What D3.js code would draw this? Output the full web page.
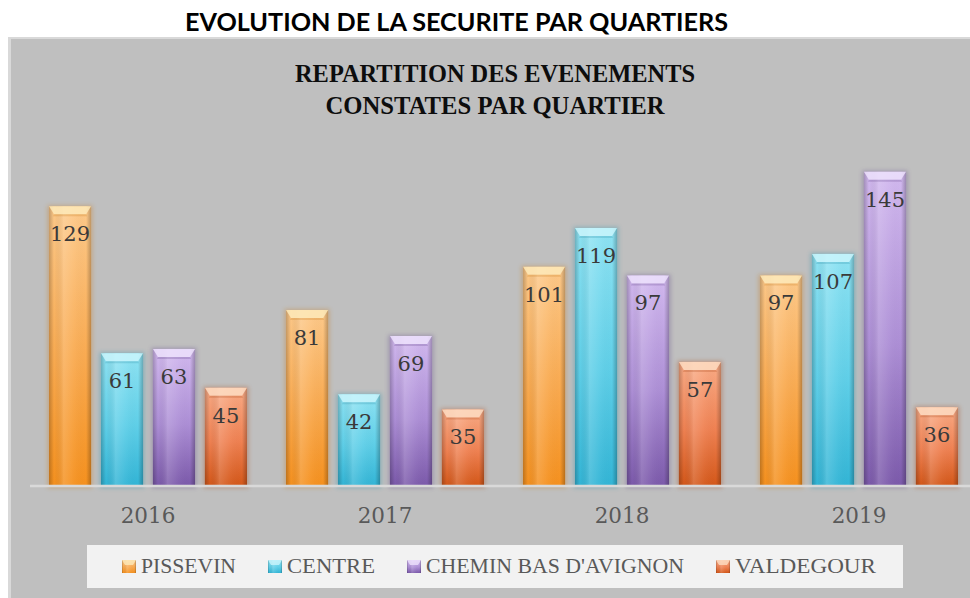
<!DOCTYPE html>
<html>
<head>
<meta charset="utf-8">
<script src="https://cdn.jsdelivr.net/npm/d3@7/dist/d3.min.js"></script>
<style>
  html, body { margin: 0; padding: 0; background: #ffffff; }
  svg { display: block; }
</style>
</head>
<body>
<script>
// Yearly counts of recorded events per district
const years = ["2016", "2017", "2018", "2019"];
const districts = ["PISSEVIN", "CENTRE", "CHEMIN BAS D'AVIGNON", "VALDEGOUR"];
const pissevin = [129, 81, 101, 97];
const centre = [61, 42, 119, 107];
const cheminBas = [63, 69, 97, 145];
const valdegour = [45, 35, 57, 36];
const seriesValues = [pissevin, centre, cheminBas, valdegour];

const pageTitle = "EVOLUTION DE LA SECURITE PAR QUARTIERS";
const chartTitle = ["REPARTITION DES EVENEMENTS", "CONSTATES PAR QUARTIER"];

// light / mid / dark tones for each district bar
const palette = [
  { top: "#fdc98a", mid: "#f9aa50", bot: "#f5911f", cap: "#fde9b8", edge: "#c97a1c" },
  { top: "#8fe3f3", mid: "#5fcfe8", bot: "#33b5d6", cap: "#c9f4fb", edge: "#2a8fa9" },
  { top: "#d2b9ef", mid: "#ad8fd6", bot: "#7c5aab", cap: "#ece0fb", edge: "#5f4488" },
  { top: "#f9ab86", mid: "#ef8152", bot: "#d4581a", cap: "#fddcc2", edge: "#a84414" }
];

const W = 970, H = 598;
const svg = d3.select("body").append("svg").attr("width", W).attr("height", H);
const defs = svg.append("defs");

// page title above the chart frame
svg.append("text")
  .attr("x", 456.5).attr("y", 31)
  .attr("text-anchor", "middle")
  .attr("font-family", "Lato, 'Open Sans', sans-serif")
  .attr("font-weight", "bold")
  .attr("font-size", 25)
  .attr("textLength", 543).attr("lengthAdjust", "spacingAndGlyphs")
  .attr("fill", "#000")
  .text(pageTitle);

// chart frame
svg.append("rect").attr("x", 8).attr("y", 37).attr("width", W - 8).attr("height", H - 37)
  .attr("fill", "#d9d9d9");
svg.append("rect").attr("x", 11).attr("y", 39).attr("width", W - 11).attr("height", H - 39)
  .attr("fill", "#bfbfbf");

// chart title (two lines)
const titleLengths = [400, 339];
svg.append("g").selectAll("text").data(chartTitle).join("text")
  .attr("x", 495)
  .attr("y", (d, i) => 82 + i * 31.5)
  .attr("text-anchor", "middle")
  .attr("font-family", "'Liberation Serif', 'DejaVu Serif', serif")
  .attr("font-weight", "bold")
  .attr("font-size", 25)
  .attr("textLength", (d, i) => titleLengths[i]).attr("lengthAdjust", "spacingAndGlyphs")
  .attr("fill", "#0d0d0d")
  .text(d => d);

// scales
const x0 = d3.scaleBand().domain(years).range([29.5, 977.5]).padding(0);
const x1 = d3.scaleBand().domain(districts)
  .range([19.5, x0.bandwidth() - 19.5]).paddingInner(0.19).paddingOuter(0);
const y = d3.scaleLinear().domain([0, 160]).range([485, 139.4]);

// gradients per district
palette.forEach((p, i) => {
  const gv = defs.append("linearGradient").attr("id", "gv" + i)
    .attr("x1", 0).attr("y1", 0).attr("x2", 0).attr("y2", 1);
  gv.append("stop").attr("offset", "0%").attr("stop-color", p.top);
  gv.append("stop").attr("offset", "55%").attr("stop-color", p.mid);
  gv.append("stop").attr("offset", "100%").attr("stop-color", p.bot);
});
const gh = defs.append("linearGradient").attr("id", "gh")
  .attr("x1", 0).attr("y1", 0).attr("x2", 1).attr("y2", 0);
[["0%", "#000", 0.22], ["12%", "#000", 0.0], ["35%", "#fff", 0.16], ["60%", "#fff", 0.04],
 ["88%", "#000", 0.0], ["100%", "#000", 0.25]].forEach(s =>
  gh.append("stop").attr("offset", s[0]).attr("stop-color", s[1]).attr("stop-opacity", s[2]));

const shadow = defs.append("filter").attr("id", "soft")
  .attr("x", "-30%").attr("y", "-10%").attr("width", "160%").attr("height", "130%");
shadow.append("feGaussianBlur").attr("stdDeviation", 2.2);

// flatten into bar records
const bars = [];
years.forEach((yr, yi) => {
  districts.forEach((dn, si) => {
    bars.push({ year: yr, district: dn, si, value: seriesValues[si][yi] });
  });
});

const barG = svg.append("g");
const groups = barG.selectAll("g.bar").data(bars).join("g").attr("class", "bar")
  .attr("transform", d => `translate(${x0(d.year) + x1(d.district)},0)`);
const bw = x1.bandwidth();

// soft halo behind each bar
groups.append("rect")
  .attr("x", -1.5).attr("y", d => y(d.value) - 1)
  .attr("width", bw + 3).attr("height", d => y(0) - y(d.value) + 4)
  .attr("fill", d => palette[d.si].edge).attr("opacity", 0.35)
  .attr("filter", "url(#soft)");

// bar body
groups.append("rect")
  .attr("x", 0).attr("y", d => y(d.value))
  .attr("width", bw).attr("height", d => y(0) - y(d.value))
  .attr("fill", d => `url(#gv${d.si})`);
groups.append("rect")
  .attr("x", 0).attr("y", d => y(d.value))
  .attr("width", bw).attr("height", d => y(0) - y(d.value))
  .attr("fill", "url(#gh)");

// bevelled top face
groups.append("path")
  .attr("d", d => {
    const t = y(d.value);
    return `M0,${t} L${bw},${t} L${bw - 5},${t + 8} L5,${t + 8} Z`;
  })
  .attr("fill", d => palette[d.si].cap).attr("opacity", 0.85);
groups.append("path")
  .attr("d", d => {
    const t = y(d.value);
    return `M5,${t + 8} L${bw - 5},${t + 8} L${bw - 4},${t + 10} L4,${t + 10} Z`;
  })
  .attr("fill", d => palette[d.si].edge).attr("opacity", 0.25);

// value labels inside the top of each bar
groups.append("text")
  .attr("x", bw / 2).attr("y", d => y(d.value) + 35)
  .attr("text-anchor", "middle")
  .attr("font-family", "'DejaVu Serif', 'Liberation Serif', serif")
  .attr("font-size", 21)
  .attr("fill", "#3a3a3a")
  .text(d => d.value);

// category axis line
svg.append("line")
  .attr("x1", 30).attr("x2", W).attr("y1", y(0) + 1).attr("y2", y(0) + 1)
  .attr("stroke", "#d9d9d9").attr("stroke-width", 2.5);

// year labels
const xAxis = d3.axisBottom(x0).tickSize(0).tickPadding(0);
const axG = svg.append("g").attr("transform", `translate(0,${y(0)})`).call(xAxis);
axG.select(".domain").remove();
axG.selectAll("text")
  .attr("y", 38).attr("dy", 0)
  .attr("font-family", "'DejaVu Serif', 'Liberation Serif', serif")
  .attr("font-size", 21.5)
  .attr("fill", "#595959");

// legend
svg.append("rect").attr("x", 87).attr("y", 545).attr("width", 816).attr("height", 43)
  .attr("fill", "#f2f2f2");
const legendWidths = [95, 88, 258, 141];
const sw = 14, swGap = 5, itemGap = 32;
let lx = 122;
const legendPos = legendWidths.map(w => { const p = lx; lx += sw + swGap + w + itemGap; return p; });
const leg = svg.append("g").selectAll("g").data(districts).join("g")
  .attr("transform", (d, i) => `translate(${legendPos[i]},0)`);
leg.append("rect").attr("x", 0).attr("y", 560).attr("width", sw).attr("height", 13)
  .attr("fill", (d, i) => `url(#gv${i})`);
leg.append("rect").attr("x", 0).attr("y", 560).attr("width", sw).attr("height", 13)
  .attr("fill", "url(#gh)");
leg.append("path").attr("d", `M0,560 L${sw},560 L${sw - 3},565 L3,565 Z`)
  .attr("fill", (d, i) => palette[i].cap).attr("opacity", 0.8);
leg.append("text")
  .attr("x", sw + swGap).attr("y", 573)
  .attr("font-family", "'Liberation Serif', 'DejaVu Serif', serif")
  .attr("font-size", 22)
  .attr("textLength", (d, i) => legendWidths[i]).attr("lengthAdjust", "spacingAndGlyphs")
  .attr("fill", "#595959")
  .text(d => d);
</script>
</body>
</html>
